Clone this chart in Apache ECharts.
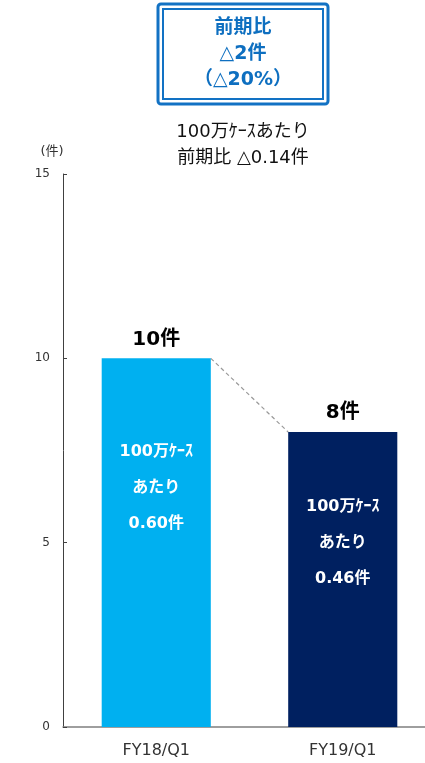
<!DOCTYPE html>
<html>
<head>
<meta charset="utf-8">
<script src="https://cdn.jsdelivr.net/npm/echarts@6/dist/echarts.min.js"></script>
<style>
  html, body { margin: 0; padding: 0; background: #fff; overflow: hidden; width: 425px; height: 763px; }
  /* the plot runs past the right edge of the view, so the canvas is a bit wider */
  #chart { width: 436px; height: 763px; }
</style>
</head>
<body>
<div id="chart"></div>
<script>
// Incident counts per quarter, with the rate per one million cases
const categories = ['FY18/Q1', 'FY19/Q1'];
const incidents = [10, 8];
const perMillionCases = ['0.60', '0.46'];
const yMin = 0, yMax = 15, yStep = 5;

// Headline texts
const changeBoxLines = ['前期比', '△2件', '（△20%）'];
const subtitleLines = ['100万ｹｰｽあたり', '前期比 △0.14件'];
const unitLabel = '(件)';

const FONT = '"DejaVu Sans", "Noto Sans CJK JP", sans-serif';
const barColors = ['#00B0F0', '#002060'];
const BAR_FRACTION = 0.585;
// vertical drop of the in-bar text block below each bar's top
const innerDrops = [76, 57];

const chart = echarts.init(document.getElementById('chart'), null, { renderer: 'canvas' });

const topSeriesData = incidents.map((v, i) => ({
  value: v,
  itemStyle: { color: barColors[i] }
}));

const innerSeriesData = incidents.map((v, i) => ({
  value: v,
  label: {
    show: true,
    position: 'insideTop',
    distance: innerDrops[i],
    formatter: '{t|100万ｹｰｽ}\n{t|あたり}\n{t|' + perMillionCases[i] + '件}',
    rich: {
      t: { color: '#fff', fontSize: 16, fontWeight: 'bold', fontFamily: FONT, lineHeight: 36 }
    }
  }
}));

const option = {
  animation: false,
  backgroundColor: '#fff',
  grid: { left: 63, right: 0, top: 174, bottom: 36 },
  xAxis: {
    type: 'category',
    data: categories,
    axisLine: { lineStyle: { color: '#7f7f7f', width: 1.5 } },
    axisTick: { inside: true, length: 5, lineStyle: { color: '#7f7f7f' } },
    axisLabel: { color: '#333', fontSize: 16, fontFamily: FONT, margin: 16 }
  },
  yAxis: {
    type: 'value',
    min: yMin, max: yMax, interval: yStep,
    name: unitLabel,
    nameGap: 16,
    nameTextStyle: { color: '#333', fontSize: 13, fontFamily: FONT, padding: [0, 0, 0, -22] },
    splitLine: { show: false },
    axisLine: { show: true, lineStyle: { color: '#404040', width: 1 } },
    axisTick: { show: true, inside: true, length: 4, lineStyle: { color: '#404040' } },
    axisLabel: { color: '#333', fontSize: 12, fontFamily: FONT, margin: 13 }
  },
  series: [
    {
      type: 'bar',
      data: topSeriesData,
      barWidth: (BAR_FRACTION * 100) + '%',
      label: {
        show: true,
        position: 'top',
        distance: 9,
        formatter: p => p.value + '件',
        color: '#000',
        fontSize: 20,
        fontWeight: 'bold',
        fontFamily: FONT
      },
      z: 2
    },
    {
      type: 'bar',
      data: innerSeriesData,
      barWidth: (BAR_FRACTION * 100) + '%',
      barGap: '-100%',
      itemStyle: { color: 'rgba(0,0,0,0)' },
      z: 3
    },
    {
      // dashed connector between the two bar tops
      type: 'custom',
      data: [[0, incidents[0], 1, incidents[1]]],
      renderItem: (params, api) => {
        const p1 = api.coord([api.value(0), api.value(1)]);
        const p2 = api.coord([api.value(2), api.value(3)]);
        const half = api.size([1, 0])[0] * BAR_FRACTION / 2;
        return {
          type: 'line',
          shape: { x1: p1[0] + half, y1: p1[1], x2: p2[0] - half, y2: p2[1] },
          style: { stroke: '#999', lineWidth: 1.2, lineDash: [4, 3] }
        };
      },
      z: 1
    }
  ],
  graphic: [
    {
      type: 'rect',
      shape: { x: 158, y: 4, width: 170, height: 100, r: 3 },
      style: { fill: '#fff', stroke: '#1272C4', lineWidth: 3 }
    },
    {
      type: 'rect',
      shape: { x: 163, y: 9, width: 160, height: 90 },
      style: { fill: 'none', stroke: '#1272C4', lineWidth: 2 }
    },
    {
      type: 'text',
      x: 243, y: 15,
      style: {
        text: changeBoxLines.join('\n'),
        fill: '#0E6FC0',
        font: 'bold 19px ' + FONT,
        lineHeight: 26,
        align: 'center',
        verticalAlign: 'top'
      }
    },
    {
      type: 'text',
      x: 243, y: 119,
      style: {
        text: subtitleLines.join('\n'),
        fill: '#111',
        font: '18px ' + FONT,
        lineHeight: 26,
        align: 'center',
        verticalAlign: 'top'
      }
    }
  ]
};

chart.setOption(option);
</script>
</body>
</html>
